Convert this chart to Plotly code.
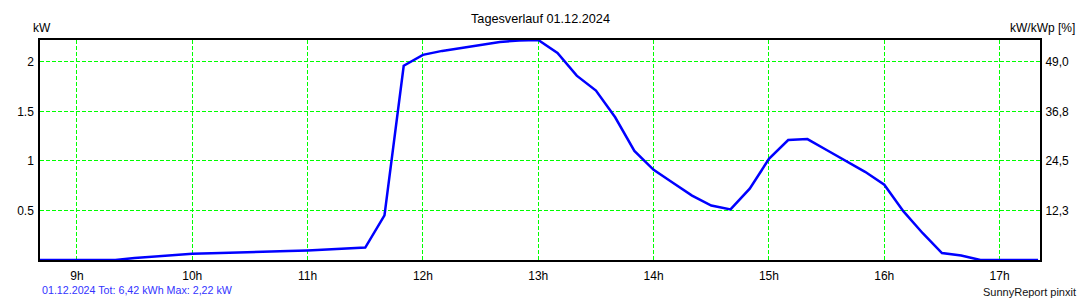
import plotly.graph_objects as go

# ---- data (10-minute samples, kW) ----
times = ["08:40", "08:50", "09:00", "09:10", "09:20", "09:30", "09:40", "09:50",
         "10:00", "10:10", "10:20", "10:30", "10:40", "10:50",
         "11:00", "11:10", "11:20", "11:30", "11:40", "11:50",
         "12:00", "12:10", "12:20", "12:30", "12:40", "12:50",
         "13:00", "13:10", "13:20", "13:30", "13:40", "13:50",
         "14:00", "14:10", "14:20", "14:30", "14:40", "14:50",
         "15:00", "15:10", "15:20", "15:30", "15:40", "15:50",
         "16:00", "16:10", "16:20", "16:30", "16:40", "16:50",
         "17:00", "17:10", "17:20"]
power_kw = [0, 0, 0, 0, 0, 0.02, 0.035, 0.05,
            0.062, 0.068, 0.072, 0.076, 0.082, 0.09,
            0.097, 0.105, 0.115, 0.125, 0.45, 1.96,
            2.07, 2.11, 2.14, 2.17, 2.20, 2.215,
            2.22, 2.09, 1.86, 1.71, 1.44, 1.10,
            0.91, 0.78, 0.65, 0.55, 0.51, 0.72,
            1.02, 1.21, 1.22, 1.11, 1.00, 0.89,
            0.76, 0.49, 0.27, 0.07, 0.045, 0.0,
            0, 0, 0]

hour_ticks = [9, 10, 11, 12, 13, 14, 15, 16, 17]
hour_labels = ["9h", "10h", "11h", "12h", "13h", "14h", "15h", "16h", "17h"]
kw_ticks = [0.5, 1, 1.5, 2]
kw_labels = ["0.5", "1", "1.5", "2"]
kwp = 4.08  # kW peak -> percent axis factor
pct_labels = ["12,3", "24,5", "36,8", "49,0"]

title = "Tagesverlauf 01.12.2024"
footer_left = "01.12.2024 Tot: 6,42 kWh Max: 2,22 kW"
footer_right = "SunnyReport pinxit"

hours = [int(t[:2]) + int(t[3:]) / 60 for t in times]
pct = [v / kwp * 100 for v in power_kw]
ymax = 2.22

FONT = "Liberation Sans, Arial, sans-serif"
GRID = "#00ff00"

fig = go.Figure()
fig.add_trace(go.Scatter(x=hours, y=power_kw, mode="lines",
                         line=dict(color="#0000ff", width=2.5),
                         showlegend=False, hoverinfo="skip"))
fig.add_trace(go.Scatter(x=hours, y=pct, mode="lines", yaxis="y2",
                         line=dict(color="rgba(0,0,0,0)", width=0),
                         showlegend=False, hoverinfo="skip"))

fig.update_layout(
    width=1080, height=300,
    margin=dict(l=40, r=40, t=40, b=40),
    paper_bgcolor="white", plot_bgcolor="white",
    font=dict(family=FONT, size=12, color="#000000"),
    xaxis=dict(range=[8.68, 17.35], tickvals=hour_ticks, ticktext=hour_labels,
               showgrid=True, gridcolor=GRID, gridwidth=1, griddash="4px,2px",
               showline=True, linecolor="black", linewidth=1.5, mirror=True,
               ticks="outside", ticklen=4, tickcolor="rgba(0,0,0,0)",
               zeroline=False, tickfont=dict(size=12)),
    yaxis=dict(range=[0, ymax], tickvals=kw_ticks, ticktext=kw_labels,
               showgrid=True, gridcolor=GRID, gridwidth=1, griddash="4px,2px",
               showline=True, linecolor="black", linewidth=1.5, mirror=True,
               ticks="outside", ticklen=2, tickcolor="rgba(0,0,0,0)",
               zeroline=False, tickfont=dict(size=12)),
    yaxis2=dict(range=[0, ymax / kwp * 100], overlaying="y", side="right",
                tickvals=[v / kwp * 100 for v in kw_ticks], ticktext=pct_labels,
                showgrid=False, showline=False, zeroline=False,
                ticks="outside", ticklen=2, tickcolor="rgba(0,0,0,0)",
                tickfont=dict(size=12)),
    annotations=[
        dict(text=title, x=540, y=19, showarrow=False, font=dict(size=12.7)),
        dict(text="kW", x=31, y=28, showarrow=False, xanchor="left", yanchor="middle",
             font=dict(size=12)),
        dict(text="kW/kWp [%]", x=1077, y=28, showarrow=False, xanchor="right",
             yanchor="middle", font=dict(size=12)),
        dict(text=footer_left, x=40, y=290, showarrow=False, xanchor="left",
             yanchor="middle", font=dict(size=10.7, color="#3333ff")),
        dict(text=footer_right, x=1078, y=292, showarrow=False, xanchor="right",
             yanchor="middle", font=dict(size=11, color="#111111")),
    ],
)

# annotations positioned in pixel space -> convert to paper coords
pw, ph = 1000, 220
for a in fig.layout.annotations:
    px, py = a.x, a.y
    a.x = (px - 40) / pw
    a.y = (260 - py) / ph
    a.xref = "paper"
    a.yref = "paper"
    if a.text == title:
        a.xanchor = "center"
        a.yanchor = "middle"

fig.write_html("out.html")
